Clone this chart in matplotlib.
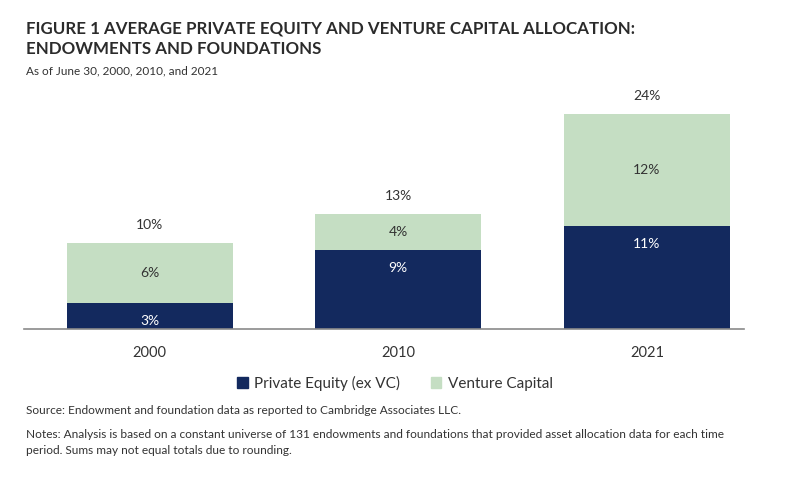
import matplotlib
matplotlib.use("Agg")
import matplotlib.pyplot as plt
from matplotlib.patches import Patch

years = ["2000", "2010", "2021"]
pe_values = [2.9, 8.8, 11.4]
vc_values = [6.6, 4.0, 12.4]
pe_labels = ["3%", "9%", "11%"]
vc_labels = ["6%", "4%", "12%"]
total_labels = ["10%", "13%", "24%"]

NAVY = "#13295e"
GREEN = "#c5dec3"
TXT = "#333333"

plt.rcParams['font.family'] = ['Lato', 'DejaVu Sans']

fig = plt.figure(figsize=(7.86, 4.79), dpi=100)
ax = fig.add_axes([24/786, 1-329/479, 720/786, 239/479])

x = list(range(len(years)))
ax.bar(x, pe_values, width=0.668, color=NAVY, label="Private Equity (ex VC)")
ax.bar(x, vc_values, width=0.668, bottom=pe_values, color=GREEN, label="Venture Capital")

ax.set_xlim(-0.505, 2.39)
ax.set_ylim(0, 26.5)

for i in x:
    ax.annotate(pe_labels[i], (i, pe_values[i]), xytext=(0, -13), textcoords="offset points",
                ha="center", va="center", color="white", fontsize=10)
    ax.text(i, pe_values[i] + vc_values[i] / 2, vc_labels[i], ha="center", va="center",
            color=TXT, fontsize=10)
    ax.annotate(total_labels[i], (i, pe_values[i] + vc_values[i]), xytext=(0, 13),
                textcoords="offset points", ha="center", va="center", color=TXT, fontsize=10)

for s in ["top", "right", "left"]:
    ax.spines[s].set_visible(False)
ax.spines["bottom"].set_color("#8a8a8a")
ax.spines["bottom"].set_linewidth(1.2)
ax.set_yticks([])
ax.set_xticks(x)
ax.set_xticklabels(years, fontsize=10.5, color=TXT)
ax.tick_params(axis="x", length=0, pad=12)

fig.text(26/786, 1-28/479, "FIGURE 1 AVERAGE PRIVATE EQUITY AND VENTURE CAPITAL ALLOCATION:",
         fontsize=12.2, fontweight="bold", color="#2b2b2b", va="center")
fig.text(26/786, 1-49/479, "ENDOWMENTS AND FOUNDATIONS",
         fontsize=12.2, fontweight="bold", color="#2b2b2b", va="center")
fig.text(26/786, 1-71/479, "As of June 30, 2000, 2010, and 2021",
         fontsize=8.5, color=TXT, va="center")

handles = [Patch(color=NAVY, label="Private Equity (ex VC)"),
           Patch(color=GREEN, label="Venture Capital")]
fig.legend(handles=handles, loc="center", bbox_to_anchor=(395/786, 1-383/479), ncol=2,
           frameon=False, fontsize=11, handlelength=0.7, handleheight=0.7,
           handletextpad=0.4, columnspacing=2.0, labelcolor=TXT)

fig.text(26/786, 1-411/479, "Source: Endowment and foundation data as reported to Cambridge Associates LLC.",
         fontsize=8.6, color=TXT, va="center")
fig.text(26/786, 1-434/479, "Notes: Analysis is based on a constant universe of 131 endowments and foundations that provided asset allocation data for each time",
         fontsize=8.6, color=TXT, va="center")
fig.text(26/786, 1-451/479, "period. Sums may not equal totals due to rounding.",
         fontsize=8.6, color=TXT, va="center")

fig.savefig("out.png", dpi=100)
